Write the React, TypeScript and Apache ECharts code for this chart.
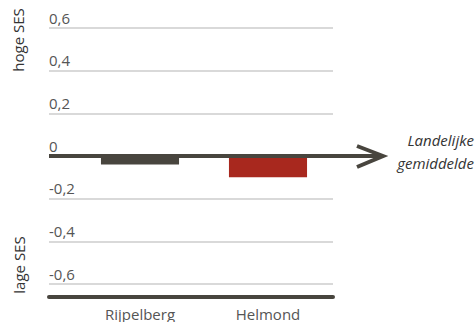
import React, { useEffect, useRef } from "react";
import * as echarts from "echarts";

const categories = ["Rijpelberg", "Helmond"];
const values = [-0.04, -0.1];
const barColors = ["#48453e", "#a8281e"];
const yMin = -0.6;
const yMax = 0.6;
const yInterval = 0.2;
const topNote = "hoge SES";
const bottomNote = "lage SES";
const arrowNote = "Landelijke\ngemiddelde";

const FONT = "'Open Sans', 'Noto Sans', sans-serif";
const DARK = "#48453e";

export default function App() {
  const ref = useRef<HTMLDivElement>(null);
  useEffect(() => {
    document.body.style.margin = "0";
    if (!ref.current) return;
    const chart = echarts.init(ref.current, null, { renderer: "svg" });
    const fmt = (v: number) => String(Math.round(v * 10) / 10).replace(".", ",");
    chart.setOption({
      animation: false,
      grid: [
        { left: 49, right: 143, top: 28, bottom: 38 },
        { left: 76, right: 144, top: 28, bottom: 38 },
      ],
      xAxis: [
        {
          type: "value",
          gridIndex: 0,
          min: 0,
          max: 1,
          position: "bottom",
          offset: 13,
          axisLine: { show: true, onZero: false, lineStyle: { color: DARK, width: 4 } },
          axisTick: { show: false },
          axisLabel: { show: false },
          splitLine: { show: false },
        },
        {
          type: "category",
          gridIndex: 1,
          data: categories,
          axisLine: { show: false },
          axisTick: { show: false },
          axisLabel: { margin: 22, fontSize: 15, color: "#555", fontFamily: FONT },
        },
      ],
      yAxis: [
        {
          type: "value",
          gridIndex: 0,
          min: yMin,
          max: yMax,
          interval: yInterval,
          axisLine: { show: false },
          axisTick: { show: false },
          axisLabel: {
            inside: true,
            margin: 0,
            verticalAlign: "bottom",
            padding: [0, 0, 3, 0],
            fontSize: 15,
            color: "#555",
            fontFamily: FONT,
            formatter: fmt,
          },
          splitLine: { show: true, lineStyle: { color: "#d9d9d9", width: 2 } },
        },
        {
          type: "value",
          gridIndex: 1,
          min: yMin,
          max: yMax,
          interval: yInterval,
          show: false,
          splitLine: { show: false },
        },
      ],
      series: [
        {
          type: "bar",
          xAxisIndex: 1,
          yAxisIndex: 1,
          barWidth: "61%",
          data: values.map((v, i) => ({ value: v, itemStyle: { color: barColors[i] } })),
        },
      ],
    });
    const y0 = chart.convertToPixel({ yAxisIndex: 0 }, 0) as number;
    const xL = chart.convertToPixel({ xAxisIndex: 0 }, 0) as number;
    const xR = chart.convertToPixel({ xAxisIndex: 0 }, 1) as number;
    const tip = xR + 50;
    chart.setOption({
      graphic: [
        {
          type: "line",
          z: 100,
          shape: { x1: xL, y1: y0, x2: tip - 2, y2: y0 },
          style: { stroke: DARK, lineWidth: 4 },
        },
        {
          type: "polyline",
          z: 100,
          shape: { points: [[tip - 26, y0 - 10], [tip, y0], [tip - 26, y0 + 11]] },
          style: { stroke: DARK, lineWidth: 4, fill: null },
        },
        {
          type: "text",
          x: 474,
          y: y0 - 4.5,
          style: {
            text: arrowNote,
            align: "right",
            verticalAlign: "middle",
            fontSize: 15,
            lineHeight: 23,
            fontStyle: "italic",
            fontFamily: FONT,
            fill: "#333",
          },
        },
        {
          type: "text",
          x: 18,
          y: 40,
          rotation: Math.PI / 2,
          style: {
            text: topNote,
            align: "center",
            verticalAlign: "middle",
            fontSize: 15,
            fontFamily: FONT,
            fill: "#333",
          },
        },
        {
          type: "text",
          x: 19,
          y: 265,
          rotation: Math.PI / 2,
          style: {
            text: bottomNote,
            align: "center",
            verticalAlign: "middle",
            fontSize: 15,
            fontFamily: FONT,
            fill: "#333",
          },
        },
      ],
    });
    return () => chart.dispose();
  }, []);
  return <div ref={ref} style={{ width: 476, height: 322 }} />;
}
